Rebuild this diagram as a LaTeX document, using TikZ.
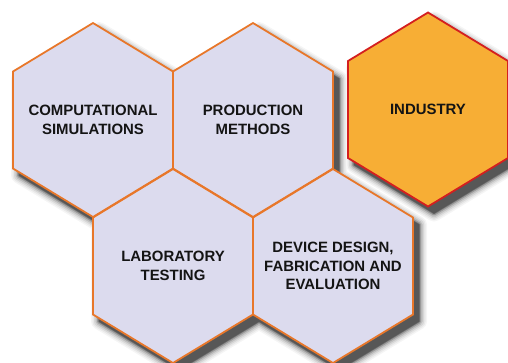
\documentclass[tikz,border=0pt]{standalone}
\usepackage{fontspec}
\setmainfont{Liberation Sans}
\definecolor{cellfill}{HTML}{DCDBEE}
\definecolor{cellborder}{HTML}{E8772A}
\definecolor{goldfill}{HTML}{F7AE35}
\definecolor{goldborder}{HTML}{D41F1F}
\definecolor{labeltext}{HTML}{141414}
\begin{document}
\begin{tikzpicture}[x=1bp,y=-1bp,
  hexagon/.style={insert path={([shift={(0,-97)}]#1) -- ++(80,48.5) -- ++(0,97)
      -- ++(-80,48.5) -- ++(-80,-48.5) -- ++(0,-97) -- cycle}},
  hexshadow/.style={insert path={([shift={(6,-90)}]#1) -- ++(80,48.5) -- ++(0,97)
      -- ++(-80,48.5) -- ++(-80,-48.5) -- ++(0,-97) -- cycle}},
  cell/.style={fill=cellfill},
  celledge/.style={draw=cellborder, line width=1.8bp, line join=miter},
  goldcell/.style={fill=goldfill, draw=goldborder, line width=1.8bp, line join=miter},
  hexlabel/.style={font=\bfseries\fontsize{15}{18.5}\selectfont, align=center,
      text=labeltext, inner sep=0pt}]
\useasboundingbox (0,0) rectangle (508,362);

% cell centres
\coordinate (c1) at (93,120);
\coordinate (c2) at (253,120);
\coordinate (c3) at (173,266);
\coordinate (c4) at (333,266);
\coordinate (c5) at (428,109.5);

% soft drop shadows, widest and lightest layer first
\foreach \w/\s in {16/4, 13/9, 10/16, 7/26, 4/40, 1.5/55, 0.1/66} {
  \foreach \c in {c1,c2,c3,c4,c5}
    \filldraw[black!\s, line width=\w bp, line join=round, hexshadow=\c];
}

% lavender cells
\foreach \c in {c1,c2,c3,c4}
  \fill[cell, hexagon=\c];
\foreach \c in {c1,c2,c3,c4}
  \draw[celledge, hexagon=\c];

% highlighted cell
\filldraw[goldcell, hexagon=c5];

% labels
\node[hexlabel] (comp) at (c1) {COMPUTATIONAL\\SIMULATIONS};
\node[hexlabel] (prod) at (c2) {PRODUCTION\\METHODS};
\node[hexlabel] (lab) at (c3) {LABORATORY\\TESTING};
\node[hexlabel] (dev) at (c4) {DEVICE DESIGN,\\FABRICATION AND\\EVALUATION};
\node[hexlabel] (ind) at (c5) {INDUSTRY};
\end{tikzpicture}
\end{document}
